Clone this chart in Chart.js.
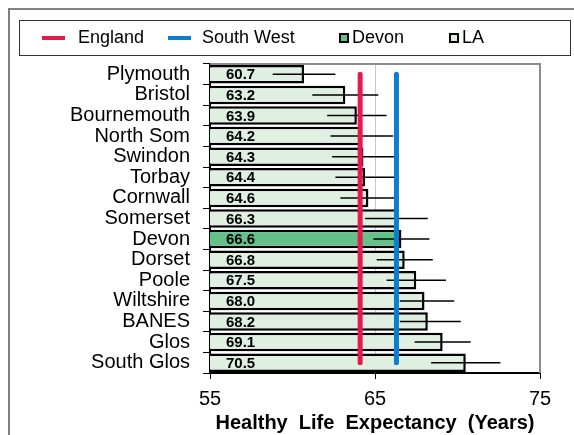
<!DOCTYPE html>
<html>
<head>
<meta charset="utf-8">
<script src="https://cdn.jsdelivr.net/npm/chart.js@4.4.0/dist/chart.umd.min.js"></script>
<style>
  html, body { margin: 0; padding: 0; background: #fff; }
  #wrap { width: 574px; height: 435px; position: relative; }
</style>
</head>
<body>
<div id="wrap"><canvas id="hleChart"></canvas></div>
<script>
// data
const areas = ['Plymouth', 'Bristol', 'Bournemouth', 'North Som', 'Swindon', 'Torbay', 'Cornwall',
    'Somerset', 'Devon', 'Dorset', 'Poole', 'Wiltshire', 'BANES', 'Glos', 'South Glos'];
const hle = [60.7, 63.2, 63.9, 64.2, 64.3, 64.4, 64.6, 66.3, 66.6, 66.8, 67.5, 68.0, 68.2, 69.1, 70.5];
const ciLow = [58.8, 61.2, 62.1, 62.3, 62.4, 62.6, 62.9, 64.4, 64.9, 65.1, 65.7, 66.5, 66.5, 67.4, 68.4];
const ciHigh = [62.6, 65.2, 65.7, 66.1, 66.2, 66.2, 66.2, 68.2, 68.3, 68.5, 69.3, 69.8, 70.2, 70.8, 72.6];
const england = 64.1;
const southWest = 66.3;
const xTicks = [55, 65, 75];

const laFill = '#dff0e3';
const devonFill = '#66c08a';
const engColor = '#e8194f';
const swColor = '#0a7fd0';
const fontFam = '"Liberation Sans", Arial, sans-serif';

// bordes del grafico y leyenda
const frame = {
    id: 'frame',
    beforeDraw: (chart) => {
        const c = chart.ctx;
        c.save();
        c.fillStyle = '#fff';
        c.fillRect(0, 0, chart.width, chart.height);
        c.strokeStyle = '#808080';
        c.lineWidth = 2;
        c.strokeRect(9, 9, chart.width + 10, chart.height + 10);
        c.restore();
    },
    afterDraw: (chart) => {
        const c = chart.ctx;
        const a = chart.chartArea;
        c.save();
        // top and right border of the plot
        c.strokeStyle = '#8c8c8c';
        c.lineWidth = 2;
        c.beginPath();
        c.moveTo(a.left, a.top);
        c.lineTo(a.right, a.top);
        c.lineTo(a.right, a.bottom);
        c.stroke();

        // legend
        c.strokeStyle = '#333';
        c.lineWidth = 1;
        c.strokeRect(19.5, 20.5, 551, 35);
        c.font = '18px ' + fontFam;
        c.fillStyle = '#000';
        c.textBaseline = 'middle';
        const y = 38;
        c.lineCap = 'butt';
        c.lineWidth = 4;
        c.strokeStyle = engColor;
        c.beginPath(); c.moveTo(42, y); c.lineTo(65, y); c.stroke();
        c.fillText('England', 78, y);
        c.strokeStyle = swColor;
        c.beginPath(); c.moveTo(168, y); c.lineTo(191, y); c.stroke();
        c.fillText('South West', 202, y);
        c.lineWidth = 2;
        c.strokeStyle = '#000';
        c.fillStyle = devonFill;
        c.fillRect(340, y - 4, 8, 8);
        c.strokeRect(340, y - 4, 8, 8);
        c.fillStyle = laFill;
        c.fillRect(450, y - 4, 8, 8);
        c.strokeRect(450, y - 4, 8, 8);
        c.fillStyle = '#000';
        c.fillText('Devon', 352, y);
        c.fillText('LA', 462, y);
        c.restore();
    }
};

// barras de error y etiquetas dentro de la barra
const errorBars = {
    id: 'errorBars',
    afterDatasetDraw: (chart, args) => {
        if (args.index !== 0) return;
        const c = chart.ctx;
        const xs = chart.scales.x;
        const meta = args.meta;
        c.save();
        c.strokeStyle = '#000';
        c.lineWidth = 1.5;
        meta.data.forEach((bar, i) => {
            c.beginPath();
            c.moveTo(xs.getPixelForValue(ciLow[i]), bar.y);
            c.lineTo(xs.getPixelForValue(ciHigh[i]), bar.y);
            c.stroke();
        });
        c.font = 'bold 15px ' + fontFam;
        c.fillStyle = '#000';
        c.textBaseline = 'middle';
        meta.data.forEach((bar, i) => {
            c.fillText(hle[i].toFixed(1), xs.getPixelForValue(55) + 16, bar.y + 1);
        });
        c.restore();
    }
};

const ctx = document.getElementById('hleChart').getContext('2d');

new Chart(ctx, {
    type: 'bar',
    data: {
        labels: areas,
        datasets: [{
            type: 'bar',
            label: 'LA',
            data: hle,
            backgroundColor: areas.map(a => a === 'Devon' ? devonFill : laFill),
            borderColor: '#000',
            borderWidth: 2.5,
            borderSkipped: false,
            barPercentage: 0.9,
            categoryPercentage: 1,
            order: 2
        }, {
            type: 'line',
            label: 'England',
            data: [{ x: england, y: areas[0] }, { x: england, y: areas[areas.length - 1] }],
            borderColor: engColor,
            borderWidth: 5,
            borderCapStyle: 'round',
            pointRadius: 0,
            order: 1
        }, {
            type: 'line',
            label: 'South West',
            data: [{ x: southWest, y: areas[0] }, { x: southWest, y: areas[areas.length - 1] }],
            borderColor: swColor,
            borderWidth: 5,
            borderCapStyle: 'round',
            pointRadius: 0,
            order: 1
        }]
    },
    options: {
        indexAxis: 'y',
        responsive: true,
        maintainAspectRatio: false,
        animation: false,
        layout: { padding: { top: 64, right: 34, left: 0, bottom: 0 } },
        plugins: {
            legend: { display: false },
            tooltip: { enabled: false }
        },
        scales: {
            x: {
                type: 'linear',
                min: 55,
                max: 75,
                afterBuildTicks: (scale) => { scale.ticks = xTicks.map(v => ({ value: v })); },
                afterFit: (scale) => { scale.height = 62; },
                ticks: {
                    color: '#000',
                    font: { family: fontFam, size: 20 },
                    padding: 8,
                    maxRotation: 0
                },
                grid: {
                    color: (c) => c.tick && c.tick.value === 65 ? '#c8c8c8' : 'rgba(0,0,0,0)',
                    tickColor: '#000',
                    tickLength: 6,
                    lineWidth: 1
                },
                border: { color: '#000', width: 2 },
                title: {
                    display: true,
                    text: 'Healthy  Life  Expectancy  (Years)',
                    color: '#000',
                    font: { family: fontFam, size: 20, weight: 'bold' },
                    padding: { top: 0, bottom: 0 }
                }
            },
            y: {
                afterFit: (scale) => { scale.width = 210; },
                ticks: {
                    color: '#000',
                    font: { family: fontFam, size: 20 },
                    padding: 13,
                    autoSkip: false
                },
                grid: {
                    offset: true,
                    drawOnChartArea: false,
                    tickColor: '#000',
                    tickLength: 7
                },
                border: { color: '#000', width: 2 }
            }
        }
    },
    plugins: [frame, errorBars]
});
</script>
</body>
</html>
